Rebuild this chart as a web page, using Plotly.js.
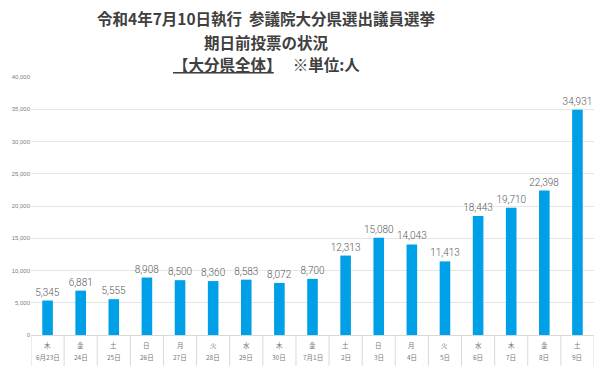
<!DOCTYPE html>
<html><head><meta charset="utf-8">
<script src="https://cdn.plot.ly/plotly-3.0.1.min.js"></script>
<style>body{margin:0;background:#fff}#c{width:600px;height:366px}</style>
</head><body><div id="c"></div>
<script>
const weekdays = ["木","金","土","日","月","火","水","木","金","土","日","月","火","水","木","金","土"];
const dates = ["6月23日","24日","25日","26日","27日","28日","29日","30日","7月1日","2日","3日","4日","5日","6日","7日","8日","9日"];
const votes = [5345,6881,5555,8908,8500,8360,8583,8072,8700,12313,15080,14043,11413,18443,19710,22398,34931];
const titleLines = ["令和4年7月10日執行  参議院大分県選出議員選挙","期日前投票の状況",'<span style="text-decoration:underline">【大分県全体】</span>　 ※単位:人'];

const cats = dates.map((d,i)=>i);
const F = "'Noto Sans CJK JP', 'Noto Sans', sans-serif";
const titleY = [1.229, 1.136, 1.050];
const rowFont = {family:F, size:6.5, color:'#777'};

const annos = titleLines.map((t,i)=>({text:t, xref:'paper', yref:'paper', x:0.419, y:titleY[i],
    xanchor:'center', yanchor:'middle', showarrow:false,
    font:{family:F, size:15.5, color:'#404040', weight:'bold'}}))
  .concat(cats.map(i=>({text:weekdays[i], xref:'x', yref:'paper', x:i, y:-0.04, xanchor:'center', yanchor:'middle', showarrow:false, font:rowFont})))
  .concat(cats.map(i=>({text:dates[i], xref:'x', yref:'paper', x:i, y:-0.087, xanchor:'center', yanchor:'middle', showarrow:false, font:rowFont})));

Plotly.newPlot('c', [{
  type:'bar', x:cats, y:votes,
  marker:{color:'#00a0e9'}, width:0.32,
  text: votes.map(v=>v.toLocaleString('en-US')),
  textposition:'outside', cliponaxis:false, constraintext:'none',
  textfont:{family:'Roboto, Liberation Sans, Arial', size:10, color:'#595959', weight:300},
  hoverinfo:'none'
}], {
  width:600, height:366,
  margin:{l:31, r:6, t:77, b:31},
  paper_bgcolor:'#fff', plot_bgcolor:'#fff',
  showlegend:false,
  annotations: annos,
  xaxis:{type:'linear', range:[-0.5,16.5], showticklabels:false,
    showgrid:false, zeroline:false, showline:true, linecolor:'#d9d9d9', linewidth:1, ticks:''},
  yaxis:{range:[0,40000], dtick:5000, tickformat:',d', showgrid:true, gridcolor:'#e6e6e6',
    zeroline:false, showline:false, ticks:'', tickfont:{family:'Liberation Sans, Arial', size:6, color:'#808080'}},
  shapes: cats.concat([17]).map(i=>({type:'line', xref:'x', yref:'paper', x0:i-0.5, x1:i-0.5, y0:0, y1:-0.12, line:{color:'#d9d9d9', width:1}}))
}, {displayModeBar:false, staticPlot:true});
</script></body></html>
